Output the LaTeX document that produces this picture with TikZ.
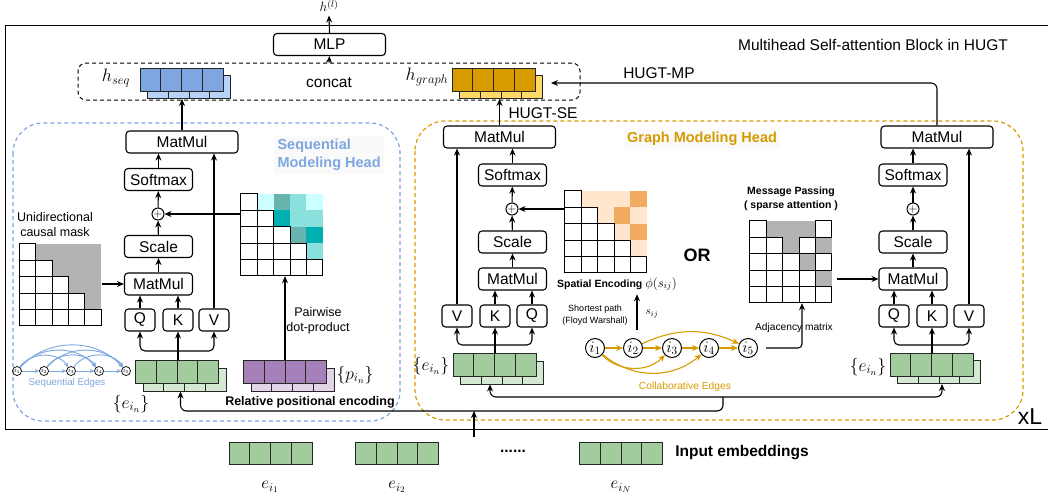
\RequirePackage{fix-cm}
\documentclass[tikz,border=0pt]{standalone}
\usepackage{amsmath}
\usepackage{fontspec}
\setmainfont{Liberation Sans}
\usetikzlibrary{arrows.meta,calc}

\definecolor{seqblue}{HTML}{7EA6E0}
\definecolor{seqlight}{HTML}{B9D3F8}
\definecolor{gold}{HTML}{D79B00}
\definecolor{goldlight}{HTML}{FFD966}
\definecolor{embgreen}{HTML}{A2CC9E}
\definecolor{emblight}{HTML}{D5E8D4}
\definecolor{posviolet}{HTML}{A680B8}
\definecolor{poslight}{HTML}{E1D5E7}
\definecolor{maskgray}{HTML}{B3B3B3}
\definecolor{tealA}{HTML}{CCFFFF}
\definecolor{tealB}{HTML}{8AE0DD}
\definecolor{tealC}{HTML}{00AFAF}
\definecolor{tealD}{HTML}{67B3AE}
\definecolor{peach}{HTML}{FFE6CC}
\definecolor{orangeM}{HTML}{F2AC62}

\newcommand{\fsz}[2]{\fontsize{#1}{#2}\selectfont}

% embedding with a shadow copy behind it
\newcommand{\embblock}[5]{%
  \node[emb, fill=#5] (#1B) at (#2+7.5,#3+7.5) {};
  \node[emb, fill=#4] (#1) at (#2,#3) {};
  \foreach \k in {1,2,3}{
    \draw[embline] (#2-41.5+\k*20.75,#3-11.5) -- ++(0,23);
    \draw[embline] (#2-34+\k*20.75,#3+11.5) -- ++(0,7.5);
  }%
}
\newcommand{\inblock}[3]{%
  \node[emb, fill=embgreen, minimum height=22pt] (#1) at (#2,#3) {};
  \foreach \k in {1,2,3}
    \draw[embline] (#2-41.5+\k*20.75,#3-11) -- ++(0,22);
}

\tikzset{
  opbox/.style={draw, rounded corners=3.5pt, line width=1.1pt, minimum height=22pt, inner sep=0pt, font=\fsz{15.5}{18}},
  bigop/.style={opbox, minimum width=112pt},
  smallop/.style={opbox, minimum width=68pt},
  qkv/.style={opbox, minimum width=30pt},
  plusnode/.style={draw, circle, line width=1pt, minimum size=12pt, inner sep=0pt, font=\fsz{12}{12}},
  arr/.style={line width=1.1pt, -{Stealth[length=7pt,width=6pt]}},
  emb/.style={draw=black!85, line width=0.9pt, minimum width=83pt, minimum height=23pt, inner sep=0pt},
  embline/.style={draw=black!85, line width=0.9pt},
  matbox/.style={minimum width=82pt, minimum height=82pt, inner sep=0pt},
  cell/.style={draw=black, fill=white, line width=0.9pt},
  headbox/.style={dash pattern=on 4pt off 3pt, line width=1.2pt, rounded corners=30pt},
  seqnode/.style={draw, circle, line width=0.7pt, minimum size=9pt, inner sep=0pt, font=\fsz{6.5}{6.5}},
  sarr/.style={draw=seqblue, line width=0.9pt, -{Stealth[length=4.5pt,width=4pt]}},
  gnode/.style={draw, circle, line width=1pt, minimum size=19pt, inner sep=0pt, font=\fsz{16}{16}},
  garr/.style={draw=gold, line width=1.1pt, -{Stealth[length=7pt,width=6pt]}},
  mathlbl/.style={font=\fsz{17.5}{17.5}},
}

\begin{document}
\begin{tikzpicture}[x=1pt,y=-1pt]
\useasboundingbox (0,0) rectangle (1048,501);

% block frame and heads
\draw[line width=1pt] (1048,25) -- (5,25) -- (5,429) -- (1048,429);
\node[font=\fsz{15.5}{18}] (blockTxt) at (873,45) {Multihead Self-attention Block in HUGT};
\draw[headbox, draw=seqblue] (13,123) rectangle (400,421);
\draw[headbox, draw=gold] (415,121) rectangle (1023,420);
\node[font=\fsz{23}{23}] (xL) at (1030,417) {xL};

% output
\node[bigop] (mlp) at (329.5,44.5) {MLP};
\node[font=\fsz{13.5}{13.5}] (hout) at (329,6) {\(h^{(l)}\)};
\node[draw, line width=1pt, dash pattern=on 4pt off 3pt, rounded corners=8pt, minimum width=502pt, minimum height=37pt] (cat) at (329,81.5) {};
\node[font=\fsz{15.5}{18}] (catTxt) at (329,83) {concat};
\embblock{hSeq}{181.5}{79.5}{seqblue}{seqlight}
\embblock{hGraph}{493.5}{79.5}{gold}{goldlight}
\node[font=\fsz{18}{18}] (hSeqTxt) at (116,78) {\(h_{seq}\)};
\node[font=\fsz{18}{18}] (hGraphTxt) at (427,77) {\(h_{graph}\)};
\draw[arr] (cat.north) -- (mlp.south);
\draw[arr] (mlp.north) -- (hout.south);

% sequential modeling head
\node[bigop] (sMatTop) at (182,142) {MatMul};
\node[smallop] (sSoft) at (158.5,179.5) {Softmax};
\node[plusnode] (sPlus) at (158,214) {\(+\)};
\node[smallop] (sScale) at (158.5,246.5) {Scale};
\node[smallop] (sMatLow) at (158.5,284) {MatMul};
\node[qkv] (sQ) at (140,320) {Q};
\node[qkv] (sK) at (178,320) {K};
\node[qkv] (sV) at (214,320) {V};
\embblock{sEmb}{177}{372}{embgreen}{emblight}
\embblock{sPos}{285}{372}{posviolet}{poslight}
\node[mathlbl] (sEmbTxt) at (131,404) {\(\{e_{i_n}\}\)};
\node[mathlbl] (sPosTxt) at (355,375) {\(\{p_{i_n}\}\)};
\node[font=\bfseries\fsz{12.5}{15}] (sRelTxt) at (310,402) {Relative positional encoding};
\node[font=\fsz{12.5}{14.5}, align=center] (sPairTxt) at (318,321) {Pairwise\\dot-product};
\node[font=\fsz{12.5}{15}, align=center] (sMaskTxt) at (55,224.5) {Unidirectional\\causal mask};
\node[font=\bfseries\fsz{14.5}{18}, align=left, text=seqblue, fill=black!2, anchor=west] (sHeadTxt) at (274,155) {Sequential\\Modeling Head};

\node[matbox] (sMask) at (60.5,285) {};
\begin{scope}[shift={(sMask.north west)}]
  \fill[maskgray] (0,0) rectangle (82,82);
  \foreach \r in {0,...,4}
    \foreach \c in {0,...,\r}
      \draw[cell] (\c*16.4,\r*16.4) rectangle ++(16.4,16.4);
\end{scope}

\node[matbox] (sRel) at (282,235) {};
\begin{scope}[shift={(sRel.north west)}]
  \foreach \r/\c/\col in {0/1/tealA,0/2/tealD,0/3/tealB,0/4/tealA,1/2/tealC,1/3/tealB,1/4/tealB,2/3/tealD,2/4/tealC,3/4/tealB}
    \fill[\col] (\c*16.4,\r*16.4) rectangle ++(16.4,16.4);
  \foreach \r in {0,...,4}
    \foreach \c in {0,...,\r}
      \draw[cell] (\c*16.4,\r*16.4) rectangle ++(16.4,16.4);
\end{scope}

\draw[arr] (sMatLow) -- (sScale);
\draw[arr] (sScale) -- (sPlus);
\draw[arr] (sPlus) -- (sSoft);
\draw[arr] (sSoft.north) -- (sSoft.north |- sMatTop.south);
\draw[arr] (sQ) -- (sQ |- sMatLow.south);
\draw[arr] (sK) -- (sK |- sMatLow.south);
\draw[arr] (sV) -- (sV |- sMatTop.south);
\draw[arr] (sEmb.north -| sK) -- (sK);
\coordinate (sFork) at (178,351);
\draw[arr, rounded corners=5pt] (sFork) -| (sQ);
\draw[arr, rounded corners=5pt] (sFork) -| (sV);
\draw[arr] (sMask.east |- sMatLow) -- (sMatLow);
\draw[arr] (sRel.west |- sPlus) -- (sPlus);
\draw[arr] (sPos) -- (sPos |- sRel.south);
\draw[arr] (sMatTop) -- (sMatTop |- hSeqB.south);

% sequential edges
\foreach \i/\x in {1/17,2/44,3/71,4/99,5/126}
  \node[seqnode] (s\i) at (\x,371) {\(i_{\i}\)};
\foreach \a/\b in {1/2,2/3,3/4,4/5}
  \draw[sarr] (s\a) -- (s\b);
\foreach \a/\b/\bend in {1/3/55,1/4/50,1/5/48,2/4/55,2/5/50,3/5/55}
  \draw[sarr] (s\a) to[bend left=\bend] (s\b);
\node[font=\fsz{9.8}{12}, text=seqblue] (sEdgeTxt) at (67,383) {Sequential Edges};

% graph modeling head
\node[bigop] (gMatTop) at (499.5,137) {MatMul};
\node[smallop] (gSoft) at (512.5,175) {Softmax};
\node[plusnode] (gPlus) at (512,209) {\(+\)};
\node[smallop] (gScale) at (512.5,242) {Scale};
\node[smallop] (gMatLow) at (512.5,279) {MatMul};
\node[qkv] (gV) at (457,316) {V};
\node[qkv] (gK) at (495,316) {K};
\node[qkv] (gQ) at (532,316) {Q};
\embblock{gEmb}{494.5}{365}{embgreen}{emblight}
\node[mathlbl] (gEmbTxt) at (431,366) {\(\{e_{i_n}\}\)};
\node[font=\bfseries\fsz{14.5}{18}, text=gold, fill=black!2] (gHeadTxt) at (702,139) {Graph Modeling Head};
\node[font=\fsz{15.5}{18}, anchor=west] (seTxt) at (505,113) {HUGT-SE};

\node[matbox] (gSpat) at (606,232) {};
\begin{scope}[shift={(gSpat.north west)}]
  \foreach \r/\c/\col in {0/1/peach,0/2/peach,0/3/peach,0/4/orangeM,1/2/peach,1/3/orangeM,1/4/peach,2/3/peach,2/4/orangeM,3/4/peach}
    \fill[\col] (\c*16.4,\r*16.4) rectangle ++(16.4,16.4);
  \foreach \r in {0,...,4}
    \foreach \c in {0,...,\r}
      \draw[cell] (\c*16.4,\r*16.4) rectangle ++(16.4,16.4);
\end{scope}
\node[font=\fsz{10.5}{12}] (gSpatTxt) at (617,284) {\textbf{Spatial Encoding} {\fsz{13}{13}\(\phi(s_{ij})\)}};
\node[font=\bfseries\fsz{18}{18}] (orTxt) at (697,255) {OR};

\foreach \i/\x in {1/595,2/633,3/672,4/709,5/748}
  \node[gnode] (g\i) at (\x,348) {\(i_{\i}\)};
\foreach \a/\b in {1/2,2/3,3/4,4/5}
  \draw[garr] (g\a) -- (g\b);
\draw[garr] (g2) to[bend left=25] (g5);
\draw[garr] (g1) to[bend right=45] (g3);
\draw[garr] (g1) to[bend right=40] (g4);
\node[font=\fsz{9}{11.5}, align=center] (gPathTxt) at (595,315) {Shortest path\\(Floyd Warshall)};
\node[font=\fsz{11}{11}] (gSijTxt) at (652,314) {\(s_{ij}\)};
\node[font=\fsz{10.3}{12}, text=gold] (gCollabTxt) at (685,387) {Collaborative Edges};

\draw[arr] (gMatLow) -- (gScale);
\draw[arr] (gScale) -- (gPlus);
\draw[arr] (gPlus) -- (gSoft);
\draw[arr] (gSoft.north) -- (gSoft.north |- gMatTop.south);
\draw[arr] (gV) -- (gV |- gMatTop.south);
\draw[arr] (gK) -- (gK |- gMatLow.south);
\draw[arr] (gQ) -- (gQ |- gMatLow.south);
\draw[arr] (gEmb.north -| gK) -- (gK);
\coordinate (gFork) at (495,345);
\draw[arr, rounded corners=5pt] (gFork) -| (gV);
\draw[arr, rounded corners=5pt] (gFork) -| (gQ);
\draw[arr] (gSpat.west |- gPlus) -- (gPlus);
\draw[arr] ([xshift=4pt,yshift=8pt]g2.north) -- ([xshift=4pt]g2.north |- gSpatTxt.south);
\draw[arr] (gMatTop) -- (gMatTop |- hGraphB.south);

% message passing head
\node[bigop] (mMatTop) at (937,137) {MatMul};
\node[smallop] (mSoft) at (913,175) {Softmax};
\node[plusnode] (mPlus) at (913,209) {\(+\)};
\node[smallop] (mScale) at (913,242) {Scale};
\node[smallop] (mMatLow) at (913,279) {MatMul};
\node[qkv] (mQ) at (894,316) {Q};
\node[qkv] (mK) at (932,316) {K};
\node[qkv] (mV) at (969,316) {V};
\embblock{mEmb}{931.5}{364.5}{embgreen}{emblight}
\node[mathlbl] (mEmbTxt) at (868,367) {\(\{e_{i_n}\}\)};
\node[font=\bfseries\fsz{10.5}{14}, align=center] (mMsgTxt) at (791,199) {Message Passing\\( sparse attention )};
\node[font=\fsz{10.2}{12}] (mAdjTxt) at (794,328) {Adjacency matrix};

\node[matbox] (mAdj) at (791,262) {};
\begin{scope}[shift={(mAdj.north west)}]
  \foreach \r/\c in {0/1,0/2,0/3,1/2,1/4,2/3,3/4}
    \fill[maskgray] (\c*16.4,\r*16.4) rectangle ++(16.4,16.4);
  \foreach \r in {0,...,4}
    \foreach \c in {0,...,\r}
      \draw[cell] (\c*16.4,\r*16.4) rectangle ++(16.4,16.4);
  \foreach \r/\c in {0/4,1/3,2/4}
    \draw[cell] (\c*16.4,\r*16.4) rectangle ++(16.4,16.4);
\end{scope}

\draw[arr] (mMatLow) -- (mScale);
\draw[arr] (mScale) -- (mPlus);
\draw[arr] (mPlus) -- (mSoft);
\draw[arr] (mSoft.north) -- (mSoft.north |- mMatTop.south);
\draw[arr] (mV) -- (mV |- mMatTop.south);
\draw[arr] (mK) -- (mK |- mMatLow.south);
\draw[arr] (mQ) -- (mQ |- mMatLow.south);
\draw[arr] (mEmb.north -| mK) -- (mK);
\coordinate (mFork) at (932,345);
\draw[arr, rounded corners=5pt] (mFork) -| (mQ);
\draw[arr, rounded corners=5pt] (mFork) -| (mV);
\draw[arr] ([xshift=5pt]mAdj.east |- mMatLow) -- (mMatLow);
\draw[arr, rounded corners=4pt] ([xshift=8pt]g5.east) -| ([xshift=11pt]mAdj.south);
\coordinate (mpEnd) at (551,83);
\draw[arr, rounded corners=6pt] (mMatTop.north) |- (mpEnd);
\node[font=\fsz{15.5}{18}] (mpTxt) at (659,73) {HUGT-MP};

% input bus
\coordinate (busU) at (723,397);
\coordinate (busL) at (723,411);
\draw[arr, rounded corners=6pt] (busU) -- (busL) -| ([xshift=-4pt]sEmbB.south);
\draw[arr, rounded corners=6pt] (busU) -| ([xshift=-12pt]gEmbB.south);
\draw[arr, rounded corners=6pt] (busU) -| ([xshift=3pt]mEmbB.south);
\coordinate (inTail) at (474,437);
\draw[arr] (inTail) -- (inTail |- busL);

% input embeddings
\inblock{in1}{270.5}{453}
\inblock{in2}{397}{453}
\inblock{inN}{621}{453}
\node[font=\bfseries\fsz{15.5}{18}] (dotsTxt) at (513,451) {......};
\node[font=\bfseries\fsz{15.5}{18}] (inTxt) at (742,453) {Input embeddings};
\node[font=\fsz{17}{17}] (in1Txt) at (270,487) {\(e_{i_1}\)};
\node[font=\fsz{17}{17}] (in2Txt) at (397,487) {\(e_{i_2}\)};
\node[font=\fsz{17}{17}] (inNTxt) at (621,487) {\(e_{i_N}\)};

\end{tikzpicture}
\end{document}
